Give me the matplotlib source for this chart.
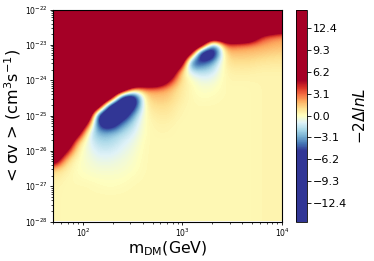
import numpy as np
import matplotlib
matplotlib.use('Agg')
import matplotlib.pyplot as plt
from matplotlib.colors import ListedColormap

# grid nodes: log10(mass / GeV) and log10(<sigma v> / cm^3 s^-1)
mass_exp = np.linspace(np.log10(50), 4.0, 21)
sigv_exp = np.linspace(-22, -28, 25)   # top row first

mass_decades = [2, 3, 4]
sigv_decades = [-28, -27, -26, -25, -24, -23, -22]
cbar_ticks = [-12.4, -9.3, -6.2, -3.1, 0.0, 3.1, 6.2, 9.3, 12.4]

# -2 Delta lnL, one row per sigma-v node (top to bottom)
dlnl = [
    [13, 13, 13, 13, 13, 13, 13, 13, 13, 13, 13, 13, 13, 13, 13, 13, 13, 13, 13, 13, 13],
    [13, 13, 13, 13, 13, 13, 13, 13, 13, 13, 13, 13, 13, 13, 13, 13, 13, 13, 13, 13, 13],
    [13, 13, 13, 13, 13, 13, 13, 13, 13, 13, 13, 13, 13, 13, 13, 13, 13, 13, 13, 13, 10],
    [13, 13, 13, 13, 13, 13, 13, 13, 13, 13, 13, 13, 13, 13, 13, 13, 13, 13, 5, 3, 2.5],
    [13, 13, 13, 13, 13, 13, 13, 13, 13, 13, 13, 13, 13, 10, -6, 3.5, 3, 2.5, 2.2, 2, 1.8],
    [13, 13, 13, 13, 13, 13, 13, 13, 13, 13, 13, 13, 8.3, -10, -8, 1.5, 1.6, 1.6, 1.5, 1.3, 1.2],
    [13, 13, 13, 13, 13, 13, 13, 13, 13, 13, 13, 13, -6, -5, -3, 0.8, 1, 1, 0.8, 0.7, 0.7],
    [13, 13, 13, 13, 13, 13, 13, 13, 13, 13, 13, 2, -1.5, -2, -1.5, 0.4, 0.5, 0.5, 0.4, 0.4, 0.4],
    [13, 13, 13, 13, 13, 13, 13, 13, 13, 13, 6, 1.2, 0.1, -0.8, -0.6, 0.3, 0.3, 0.3, 0.3, 0.3, 0.3],
    [13, 13, 13, 13, 13, 13, 13, 3, 2.5, 2.5, 2, 0.8, 0.2, -0.2, -0.1, 0.2, 0.2, 0.2, 0.3, 0.3, 0.3],
    [13, 13, 13, 13, 13, 10.7, -8, -9, 1.2, 1.5, 1.5, 0.7, 0.2, 0, 0.1, 0.2, 0.2, 0.2, 0.3, 0.3, 0.3],
    [13, 13, 13, 13, 10, -9, -10, -7, 0.6, 1, 1, 0.4, 0.2, 0.2, 0.2, 0.2, 0.2, 0.2, 0.3, 0.3, 0.3],
    [13, 13, 13, 13, -8, -10, -8, -3, 0.2, 0.6, 0.7, 0.3, 0.2, 0.2, 0.2, 0.2, 0.2, 0.2, 0.3, 0.3, 0.3],
    [13, 13, 13, 5, -6, -8, -3.5, -1.8, 0.1, 0.4, 0.4, 0.2, 0.2, 0.2, 0.2, 0.2, 0.2, 0.2, 0.3, 0.3, 0.3],
    [13, 13, 9.3, -0.7, -3, -2.8, -2, -1.2, 0.1, 0.3, 0.3, 0.2, 0.2, 0.2, 0.2, 0.2, 0.2, 0.2, 0.3, 0.3, 0.3],
    [13, 13, 2, -0.7, -2, -2, -1.2, -0.7, 0.2, 0.2, 0.2, 0.2, 0.2, 0.2, 0.2, 0.2, 0.2, 0.2, 0.3, 0.3, 0.3],
    [13, 6.7, 0.5, -0.5, -1.3, -1.3, -0.9, -0.4, 0.2, 0.2, 0.2, 0.2, 0.2, 0.2, 0.2, 0.2, 0.2, 0.2, 0.3, 0.3, 0.3],
    [10, 1.7, 0.1, -0.3, -0.8, -0.8, -0.5, -0.2, 0.2, 0.2, 0.2, 0.2, 0.2, 0.2, 0.2, 0.2, 0.2, 0.2, 0.3, 0.3, 0.3],
    [1.7, 0.7, 0, -0.2, -0.4, -0.4, -0.3, -0.1, 0.2, 0.2, 0.2, 0.2, 0.2, 0.2, 0.2, 0.2, 0.2, 0.2, 0.3, 0.3, 0.3],
    [0.7, 0.3, 0.1, 0, -0.1, -0.1, -0.1, 0.1, 0.2, 0.2, 0.2, 0.2, 0.2, 0.2, 0.2, 0.2, 0.2, 0.2, 0.3, 0.3, 0.3],
    [0.4, 0.2, 0.2, 0.2, 0.1, 0, 0.1, 0.2, 0.2, 0.2, 0.2, 0.2, 0.2, 0.2, 0.2, 0.2, 0.2, 0.2, 0.3, 0.3, 0.3],
    [0.3, 0.2, 0.2, 0.2, 0.2, 0.2, 0.2, 0.2, 0.2, 0.2, 0.2, 0.2, 0.2, 0.2, 0.2, 0.2, 0.2, 0.2, 0.3, 0.3, 0.3],
    [0.3, 0.2, 0.2, 0.2, 0.2, 0.2, 0.2, 0.2, 0.2, 0.2, 0.2, 0.2, 0.2, 0.2, 0.2, 0.2, 0.2, 0.2, 0.3, 0.3, 0.3],
    [0.3, 0.2, 0.2, 0.2, 0.2, 0.2, 0.2, 0.2, 0.2, 0.2, 0.2, 0.2, 0.2, 0.2, 0.2, 0.2, 0.2, 0.2, 0.3, 0.3, 0.3],
    [0.3, 0.2, 0.2, 0.2, 0.2, 0.2, 0.2, 0.2, 0.2, 0.2, 0.2, 0.2, 0.2, 0.2, 0.2, 0.2, 0.2, 0.2, 0.3, 0.3, 0.3],
]

# RdYlBu_r squeezed into -5..5, flat beyond that
base = plt.get_cmap('RdYlBu_r')
lev = np.linspace(-15, 15, 512)
cmap = ListedColormap(base(np.clip((lev + 5) / 10, 0, 1)))

fig = plt.figure(figsize=(3.74, 2.61), dpi=100)
ax = fig.add_axes([53 / 374, 39.5 / 261, 229 / 374, 212 / 261])
cax = fig.add_axes([296 / 374, 39.5 / 261, 11 / 374, 212 / 261])

# map drawn in log10 units, axes labelled as decades
du = mass_exp[1] - mass_exp[0]
dv = sigv_exp[0] - sigv_exp[1]
img = ax.imshow(np.array(dlnl), cmap=cmap, vmin=-15, vmax=15, aspect='auto',
                interpolation='bicubic', origin='upper',
                extent=[mass_exp[0] - du / 2, mass_exp[-1] + du / 2,
                        sigv_exp[-1] - dv / 2, sigv_exp[0] + dv / 2])
ax.set_xlim(mass_exp[0], mass_exp[-1])
ax.set_ylim(sigv_exp[-1], sigv_exp[0])

ax.set_xticks(mass_decades)
ax.set_xticklabels([f'$10^{{{d}}}$' for d in mass_decades])
ax.set_yticks(sigv_decades)
ax.set_yticklabels([f'$10^{{{d}}}$' for d in sigv_decades])
minor_x = [np.log10(m) + d for d in [1, 2, 3] for m in range(2, 10)]
minor_y = [np.log10(m) + d for d in sigv_decades[:-1] for m in range(2, 10)]
ax.set_xticks([t for t in minor_x if mass_exp[0] <= t <= 4], minor=True)
ax.set_yticks(minor_y, minor=True)
ax.tick_params(which='major', labelsize=5.5, length=2.5, width=0.6, pad=1.5)
ax.tick_params(which='minor', length=1.5, width=0.5)
ax.set_xlabel(r'm$_{\mathrm{DM}}$(GeV)', fontsize=11.3, labelpad=0)
ax.set_ylabel(r'< σv > (cm$^3$s$^{-1}$)', fontsize=11.6, labelpad=1)

cb = fig.colorbar(img, cax=cax, ticks=cbar_ticks)
cb.ax.set_yticklabels([f'{t:.1f}'.replace('-', '\u2212') for t in cbar_ticks])
cb.ax.tick_params(labelsize=8, length=3, width=0.6, pad=1)
cb.set_label(r'$-2\Delta lnL$', fontsize=11, labelpad=4)
cb.outline.set_linewidth(0.6)

fig.savefig('out.png', dpi=100)
